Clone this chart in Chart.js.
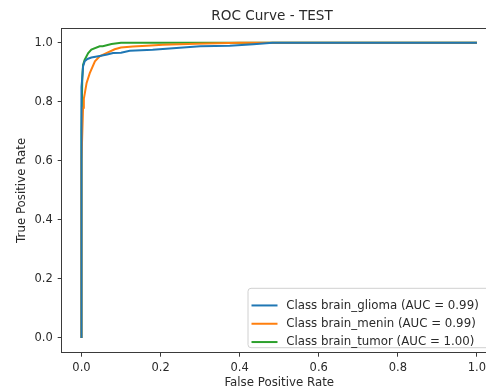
<!DOCTYPE html>
<html><head><meta charset="utf-8">
<script src="https://cdn.jsdelivr.net/npm/chart.js@4.4.1/dist/chart.umd.min.js"></script>
<style>
html,body{margin:0;padding:0;overflow:hidden;background:#fff;width:486px;height:392px}
canvas{display:block}
</style></head>
<body>
<canvas id="c" width="520" height="392" style="width:520px;height:392px"></canvas>
<script>
const chartTitle = 'ROC Curve - TEST';
const xAxisTitle = 'False Positive Rate';
const yAxisTitle = 'True Positive Rate';
const seriesLabels = ['Class brain_glioma (AUC = 0.99)', 'Class brain_menin (AUC = 0.99)', 'Class brain_tumor (AUC = 1.00)'];
const seriesColors = ['#1f77b4', '#ff7f0e', '#2ca02c'];

const fprGlioma = [0, 0, 0, 0.002, 0.004, 0.008, 0.015, 0.025, 0.046, 0.065, 0.08, 0.10, 0.122, 0.18, 0.24, 0.30, 0.375, 0.435, 0.483, 1.0];
const tprGlioma = [0, 0.6, 0.85, 0.88, 0.92, 0.937, 0.945, 0.95, 0.955, 0.96, 0.965, 0.966, 0.973, 0.976, 0.982, 0.988, 0.990, 0.995, 1.0, 1.0];

const fprMenin = [0, 0, 0.004, 0.006, 0.013, 0.021, 0.034, 0.046, 0.063, 0.084, 0.10, 0.13, 0.165, 0.206, 0.29, 0.40, 1.0];
const tprMenin = [0, 0.6, 0.78, 0.81, 0.864, 0.897, 0.937, 0.954, 0.965, 0.978, 0.984, 0.987, 0.99, 0.993, 0.997, 1.0, 1.0];

const fprTumor = [0, 0, 0.002, 0.004, 0.008, 0.017, 0.025, 0.046, 0.054, 0.076, 0.10, 1.0];
const tprTumor = [0, 0.7, 0.88, 0.925, 0.942, 0.965, 0.977, 0.988, 0.988, 0.996, 1.0, 1.0];

const xTicks = [0.0, 0.2, 0.4, 0.6, 0.8, 1.0];
const yTicks = [0.0, 0.2, 0.4, 0.6, 0.8, 1.0];

const FONT = '"DejaVu Sans", "Liberation Sans", sans-serif';
const TXT = '#2a2a2a';
const AX = '#3a3a3a';

function pts(xs, ys) { return xs.map((x, i) => ({x: x, y: ys[i]})); }

const seriesData = [pts(fprGlioma, tprGlioma), pts(fprMenin, tprMenin), pts(fprTumor, tprTumor)];

const titlePlugin = {
  id: 'mplTitle',
  afterDraw(chart) {
    const ctx = chart.ctx;
    ctx.save();
    ctx.font = '13.6px ' + FONT;
    ctx.fillStyle = TXT;
    ctx.textAlign = 'center';
    ctx.textBaseline = 'alphabetic';
    ctx.fillText(chartTitle, 272, 19.5);
    ctx.restore();
  }
};

const framePlugin = {
  id: 'frame',
  afterDatasetsDraw(chart) {
    const ca = chart.chartArea, ctx = chart.ctx;
    ctx.save();
    ctx.strokeStyle = AX;
    ctx.lineWidth = 1;
    ctx.beginPath();
    ctx.moveTo(ca.left, ca.top + 0.5);
    ctx.lineTo(ca.right, ca.top + 0.5);
    ctx.moveTo(ca.right - 0.5, ca.top);
    ctx.lineTo(ca.right - 0.5, ca.bottom);
    ctx.stroke();
    ctx.restore();
  }
};

const legendPlugin = {
  id: 'mplLegend',
  afterDraw(chart) {
    const ca = chart.chartArea, ctx = chart.ctx;
    const ds = chart.data.datasets;
    const fs = 11.8;
    ctx.save();
    ctx.font = fs + 'px ' + FONT;
    const rowH = 18.3;
    const padX = 4, handleL = 26, gap = 8.7;
    const boxH = rowH * ds.length + 4.5;
    const right = ca.right - 5.5;
    const bottom = ca.bottom - 5.5;
    const left = 247.5, top = bottom - boxH;
    ctx.beginPath();
    ctx.roundRect(left + 0.5, top + 0.5, right - left, boxH, 3);
    ctx.fillStyle = 'rgba(255,255,255,0.85)';
    ctx.fill();
    ctx.strokeStyle = '#d0d0d0';
    ctx.lineWidth = 1;
    ctx.stroke();
    ds.forEach((d, i) => {
      const y = top + 9 + rowH * (i + 0.5) - 0.5;
      ctx.beginPath();
      ctx.strokeStyle = d.borderColor;
      ctx.lineWidth = 2;
      ctx.moveTo(left + padX, y);
      ctx.lineTo(left + padX + handleL, y);
      ctx.stroke();
      ctx.fillStyle = TXT;
      ctx.textAlign = 'left';
      ctx.textBaseline = 'middle';
      ctx.fillText(d.label, left + padX + handleL + gap, y);
    });
    ctx.restore();
  }
};

const datasets = seriesLabels.map((lab, i) => ({
  label: lab,
  data: seriesData[i],
  borderColor: seriesColors[i],
  backgroundColor: seriesColors[i],
  borderWidth: 2,
  pointRadius: 0,
  tension: 0,
  fill: false
}));

new Chart(document.getElementById('c'), {
  type: 'line',
  data: { datasets: datasets },
  options: {
    responsive: false,
    animation: false,
    layout: { padding: { left: 0, top: 28, right: 23.3, bottom: 0 } },
    plugins: { legend: { display: false }, title: { display: false }, tooltip: { enabled: false } },
    scales: {
      x: {
        type: 'linear', min: -0.05, max: 1.05,
        afterBuildTicks: s => { s.ticks = xTicks.map(v => ({ value: v })); },
        afterFit: s => { s.height = 39.3; },
        ticks: { callback: v => Number(v).toFixed(1), font: { family: FONT, size: 11.5 }, color: TXT, padding: 4, maxRotation: 0, autoSkip: false },
        grid: { display: true, drawOnChartArea: false, tickLength: 4, color: AX, tickWidth: 1 },
        border: { display: true, color: AX, width: 1 },
        title: { display: true, text: xAxisTitle, color: TXT, font: { family: FONT, size: 11.8 }, padding: { top: 0, bottom: 2 } }
      },
      y: {
        type: 'linear', min: -0.05, max: 1.05,
        afterBuildTicks: s => { s.ticks = yTicks.map(v => ({ value: v })); },
        afterFit: s => { s.width = 61.7; },
        ticks: { callback: v => Number(v).toFixed(1), font: { family: FONT, size: 11.5 }, color: TXT, padding: 5, autoSkip: false },
        grid: { display: true, drawOnChartArea: false, tickLength: 4, color: AX, tickWidth: 1 },
        border: { display: true, color: AX, width: 1 },
        title: { display: true, text: yAxisTitle, color: TXT, font: { family: FONT, size: 11.8 }, padding: { top: 14.5, bottom: 0 } }
      }
    }
  },
  plugins: [framePlugin, legendPlugin, titlePlugin]
});
</script>
</body></html>
